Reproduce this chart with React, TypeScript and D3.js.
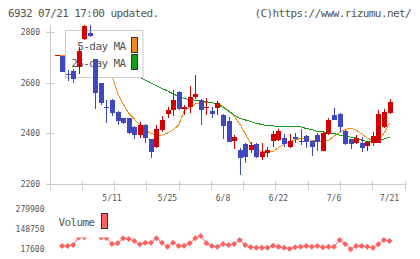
import React, { useEffect, useRef } from 'react';
import * as d3 from 'd3';

// daily candles, oldest first
const opens = [2709, 2709, 2634, 2648, 2665, 2775, 2800, 2694, 2602, 2505,
  2533, 2487, 2460, 2460, 2427, 2394, 2434, 2377, 2348, 2414,
  2478, 2493, 2566, 2496, 2504, 2544, 2533, 2500, 2491, 2500,
  2474, 2450, 2370, 2335, 2359, 2335, 2359, 2308, 2322, 2372,
  2374, 2381, 2348, 2387, 2372, 2390, 2370, 2394, 2332, 2397,
  2474, 2478, 2410, 2378, 2361, 2361, 2352, 2364, 2364, 2427, 2483];
const highs = [2710, 2709, 2652, 2656, 2742, 2830, 2830, 2694, 2602, 2533,
  2535, 2490, 2462, 2462, 2430, 2447, 2436, 2380, 2434, 2471,
  2504, 2573, 2570, 2513, 2589, 2632, 2535, 2540, 2506, 2529,
  2476, 2467, 2394, 2342, 2361, 2368, 2361, 2361, 2348, 2411,
  2418, 2398, 2398, 2401, 2417, 2394, 2372, 2401, 2411, 2463,
  2500, 2480, 2413, 2380, 2394, 2385, 2370, 2407, 2493, 2497, 2537];
const lows = [2709, 2645, 2608, 2599, 2636, 2771, 2784, 2496, 2515, 2442,
  2470, 2434, 2438, 2400, 2377, 2381, 2361, 2302, 2342, 2407,
  2460, 2471, 2492, 2474, 2483, 2536, 2434, 2474, 2460, 2474,
  2377, 2366, 2338, 2236, 2284, 2322, 2302, 2295, 2308, 2345,
  2370, 2348, 2342, 2361, 2355, 2342, 2312, 2332, 2330, 2395,
  2452, 2407, 2355, 2339, 2359, 2328, 2332, 2352, 2362, 2423, 2476];
const closes = [2710, 2645, 2630, 2616, 2727, 2826, 2788, 2562, 2522, 2500,
  2480, 2451, 2440, 2403, 2394, 2434, 2381, 2328, 2417, 2454,
  2493, 2533, 2496, 2506, 2544, 2557, 2493, 2504, 2476, 2520,
  2430, 2368, 2388, 2304, 2308, 2355, 2308, 2328, 2335, 2398,
  2410, 2359, 2370, 2380, 2370, 2368, 2348, 2368, 2403, 2454,
  2454, 2427, 2357, 2357, 2381, 2344, 2368, 2390, 2478, 2484, 2524];

const ma5 = [2710, 2709, 2706, 2700, 2700, 2712, 2728, 2716, 2690, 2662,
  2628, 2561, 2517, 2481, 2458, 2434, 2414, 2400, 2394, 2394,
  2402, 2414, 2434, 2489, 2503, 2517, 2521, 2521, 2522, 2518,
  2509, 2489, 2470, 2438, 2400, 2361, 2334, 2329, 2328, 2328,
  2345, 2356, 2367, 2374, 2381, 2377, 2373, 2370, 2368, 2372,
  2390, 2404, 2417, 2420, 2414, 2398, 2382, 2373, 2374, 2400, 2442];
const ma25 = [null, null, null, 2718, 2710, 2702, 2694, 2686, 2678, 2670,
  2662, 2654, 2646, 2638, 2630, 2622, 2612, 2600, 2589, 2579,
  2569, 2557, 2547, 2539, 2535, 2532, 2530, 2526, 2522, 2517,
  2503, 2489, 2474, 2460, 2454, 2447, 2440, 2436, 2431, 2430,
  2429, 2428, 2428, 2427, 2426, 2420, 2415, 2409, 2406, 2402,
  2400, 2394, 2390, 2386, 2382, 2374, 2367, 2367, 2372, 2378, 2386];

const volumes = [null, 37000, 37000, 44000, 93000, 95000, 130000, 136000, 93000, 90000,
  50000, 55000, 88000, 83000, 70000, 48000, 59000, 59000, 88000, 59000,
  33000, 59000, 37000, 39000, 55000, 88000, 103000, 55000, 37000, 33000,
  50000, 44000, 50000, 77000, 44000, 29000, 26000, 26000, 26000, 39000,
  33000, 26000, 20000, 29000, 33000, 37000, 33000, 37000, 29000, 33000,
  33000, 77000, 50000, 16000, 37000, 37000, 33000, 26000, 48000, 77000, 70000];

const dateLabels = ['5/11', '5/25', '6/8', '6/22', '7/6', '7/21'];
const dateIndex = [10, 20, 30, 40, 50, 60];
const priceTicks = [2200, 2400, 2600, 2800];
const volumeTicks = [17600, 148750, 279900];

const UP = '#d40000';
const DOWN = '#4048c0';
const ORANGE = '#f08c1e';
const GREEN = '#14a014';
const VOL = '#ff6060';
const AXIS = '#cccccc';
const TEXT = '#555555';
const MONO = '"DejaVu Sans Mono", monospace';

const App = () => {
  const ref = useRef<SVGSVGElement>(null);

  useEffect(() => {
    const svg = d3.select(ref.current);
    svg.selectAll('*').remove();

    const left = 50, right = 405, top = 25, bottom = 184;
    const n = closes.length;

    const x = d3.scaleLinear().domain([0, n - 1]).range([56.5, 389.5]);
    const y = d3.scaleLinear().domain([2200, 2830]).range([bottom, top]);
    const yv = d3.scaleLinear().domain([17600, 279900]).range([249, 209]);

    const bigText = (sel: any) => sel
      .attr('font-family', MONO).attr('font-size', 11)
      .attr('letter-spacing', '-0.6px').attr('fill', TEXT);
    const smallText = (sel: any) => sel
      .attr('font-family', MONO).attr('font-size', 8).attr('fill', TEXT);

    // header
    svg.append('text').attr('x', 8).attr('y', 16.5)
      .text('6932 07/21 17:00 updated.').call(bigText);
    svg.append('text').attr('x', 411).attr('y', 16.5).attr('text-anchor', 'end')
      .text('(C)https://www.rizumu.net/').call(bigText);

    // axes
    const axes = svg.append('g').attr('stroke', AXIS).attr('shape-rendering', 'crispEdges');
    axes.append('line').attr('x1', left).attr('x2', left).attr('y1', top).attr('y2', bottom + 6);
    axes.append('line').attr('x1', left).attr('x2', right).attr('y1', bottom).attr('y2', bottom);
    d3.range(12).forEach(k => {
      const tx = left + k * (right - left) / 11;
      axes.append('line').attr('x1', tx).attr('x2', tx).attr('y1', bottom - 3).attr('y2', bottom + 6);
    });
    priceTicks.forEach(t => {
      axes.append('line').attr('x1', left - 4).attr('x2', left + 4).attr('y1', y(t)).attr('y2', y(t));
      svg.append('text').attr('x', 40).attr('y', y(t)).attr('dy', '0.35em')
        .attr('text-anchor', 'end').text(t).call(smallText);
    });
    dateIndex.forEach((d, k) => {
      svg.append('text').attr('x', x(d)).attr('y', 201).attr('text-anchor', 'middle')
        .text(dateLabels[k]).call(smallText);
    });

    // moving averages
    const maLine = d3.line<number | null>()
      .defined(d => d != null)
      .x((_, i) => x(i))
      .y(d => y(d as number));
    svg.append('path').datum(ma5).attr('d', maLine)
      .attr('fill', 'none').attr('stroke', ORANGE).attr('stroke-width', 1)
      .attr('shape-rendering', 'crispEdges');
    svg.append('path').datum(ma25).attr('d', maLine)
      .attr('fill', 'none').attr('stroke', GREEN).attr('stroke-width', 1)
      .attr('shape-rendering', 'crispEdges');

    // price legend
    const lg = svg.append('g');
    lg.append('rect').attr('x', 65.5).attr('y', 30.5).attr('width', 77.5).attr('height', 47)
      .attr('fill', '#fff').attr('stroke', AXIS);
    lg.append('text').attr('x', 125.5).attr('y', 50).attr('text-anchor', 'end')
      .text('5-day MA').call(bigText);
    lg.append('text').attr('x', 125.5).attr('y', 67).attr('text-anchor', 'end')
      .text('25-day MA').call(bigText);
    lg.append('rect').attr('x', 131.5).attr('y', 37.5).attr('width', 6).attr('height', 15)
      .attr('fill', ORANGE).attr('stroke', '#333');
    lg.append('rect').attr('x', 131.5).attr('y', 54.5).attr('width', 6).attr('height', 15)
      .attr('fill', GREEN).attr('stroke', '#333');

    // candles
    const candles = svg.append('g').attr('shape-rendering', 'crispEdges');
    d3.range(n).forEach(i => {
      const o = opens[i], c = closes[i];
      const col = c >= o ? UP : DOWN;
      const cx = Math.round(x(i)) + 0.5;
      candles.append('line').attr('x1', cx).attr('x2', cx)
        .attr('y1', y(highs[i])).attr('y2', y(lows[i])).attr('stroke', col);
      const yTop = y(Math.max(o, c));
      const h = Math.max(1, Math.abs(y(o) - y(c)));
      candles.append('rect').attr('x', cx - 3).attr('y', yTop)
        .attr('width', 5).attr('height', h).attr('fill', col);
    });

    // volume panel
    volumeTicks.forEach(t => {
      svg.append('text').attr('x', 44.5).attr('y', yv(t)).attr('dy', '0.35em')
        .attr('text-anchor', 'end').text(t).call(smallText);
    });
    const volLine = d3.line<number | null>()
      .defined(d => d != null)
      .x((_, i) => x(i))
      .y(d => yv(d as number));
    svg.append('path').datum(volumes).attr('d', volLine)
      .attr('fill', 'none').attr('stroke', VOL).attr('stroke-width', 1);
    svg.append('g').selectAll('path')
      .data(volumes.map((v, i) => ({ v, i })).filter(d => d.v != null))
      .enter().append('path')
      .attr('d', 'M0,-3L3,0L0,3L-3,0Z')
      .attr('transform', d => `translate(${x(d.i)},${yv(d.v as number)})`)
      .attr('fill', VOL);

    const vg = svg.append('g');
    vg.append('rect').attr('x', 55).attr('y', 205).attr('width', 55).attr('height', 32.5)
      .attr('fill', '#fff');
    vg.append('text').attr('x', 58.5).attr('y', 226).text('Volume').call(bigText);
    vg.append('rect').attr('x', 101.5).attr('y', 213.5).attr('width', 6).attr('height', 15)
      .attr('fill', VOL).attr('stroke', '#333');
  }, []);

  return (
    <svg ref={ref} width={420} height={259}
      style={{ position: 'absolute', left: 0, top: 0, background: '#fff' }} />
  );
};

export default App;
